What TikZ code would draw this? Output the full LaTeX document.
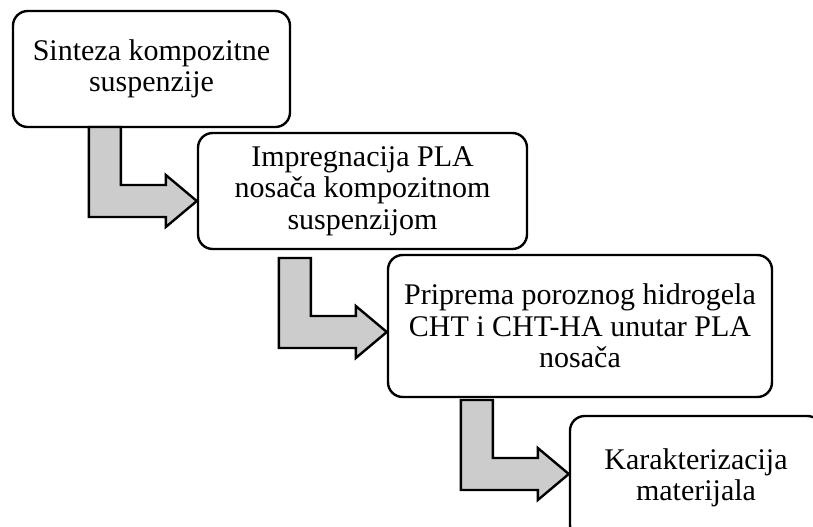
\documentclass[tikz,border=0pt]{standalone}
\usepackage{fontspec}
\setmainfont{Liberation Serif}
\usetikzlibrary{calc}

\tikzset{
  stepbox/.style={draw, line width=1.8pt, rounded corners=11pt, align=center,
    inner sep=0pt, font=\fontsize{22.5}{23.5}\selectfont},
  bentarrow/.style={draw, line width=1.8pt, line join=miter,
    fill={rgb,255:red,204;green,204;blue,204}}
}

\begin{document}
\begin{tikzpicture}[x=0.75pt,y=0.75pt,yscale=-1,xscale=1]
\useasboundingbox (0,0) rectangle (813,526);
\clip (0,0) rectangle (813,526);

% Boxes
\node[stepbox, minimum width=207.75pt, minimum height=87pt] (sinteza) at (151.5,69) {Sinteza kompozitne\\suspenzije};
\node[stepbox, minimum width=246.75pt, minimum height=87pt] (impreg) at (362.5,191) {Impregnacija PLA\\nosača kompozitnom\\suspenzijom};
\node[stepbox, minimum width=288pt, minimum height=106.5pt] (priprema) at (580,326) {Priprema poroznog hidrogela\\CHT i CHT-HA unutar PLA\\nosača};
\node[stepbox, minimum width=189pt, minimum height=93pt] (karakt) at (696,478) {Karakterizacija\\materijala};

% arrow tips
\coordinate (tip1) at ($(impreg.west)+(0,10)$);
\coordinate (tip2) at ($(priprema.west)+(0,6)$);
\coordinate (tip3) at ($(karakt.west)+(0,-4)$);

% Bent arrows
\foreach \t in {tip1,tip2,tip3}{
  \draw[bentarrow] ($(\t)+(-108,-74)$) -- ++(32,0) -- ++(0,58) -- ++(45,0) -- ++(0,-10)
    -- (\t) -- ++(-31,26) -- ++(0,-10) -- ++(-77,0) -- cycle;
}
\end{tikzpicture}
\end{document}
